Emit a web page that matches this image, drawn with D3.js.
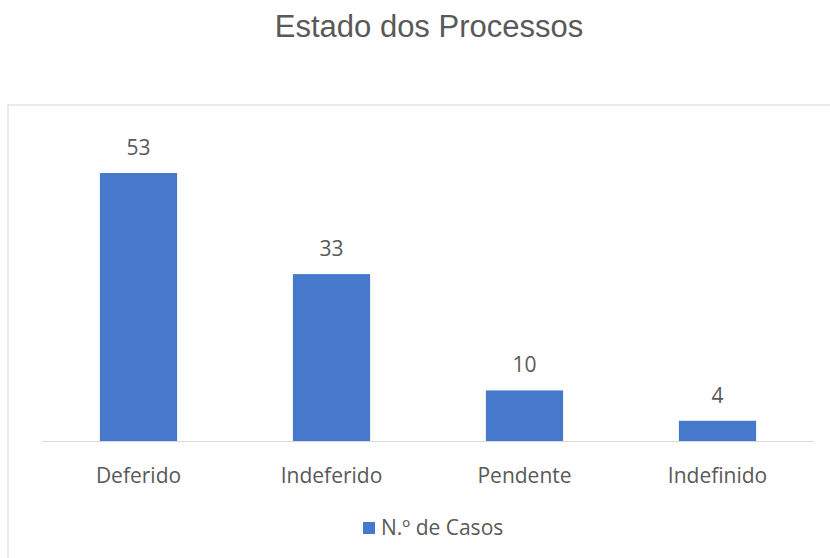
<!DOCTYPE html>
<html><head><meta charset="utf-8">
<script src="https://cdn.jsdelivr.net/npm/d3@7"></script>
<style>body{margin:0;background:#fff}svg{display:block}</style>
</head><body>
<svg id="c" width="830" height="558"></svg>
<script>
const categories = ["Deferido", "Indeferido", "Pendente", "Indefinido"];
const values = [53, 33, 10, 4];
const seriesName = "N.º de Casos";
const title = "Estado dos Processos";

const svg = d3.select("#c");
const W = 830, H = 558;
const baseY = 441;
const x = d3.scaleBand().domain(categories).range([42, 814]).paddingInner(0.6).paddingOuter(0.3);
const y = d3.scaleLinear().domain([0, 53]).range([baseY, 173]);
const txt = "#595959";
const blue = "#4678CB";

// chart area frame
svg.append("rect").attr("x", 8).attr("y", 105).attr("width", W + 10).attr("height", H + 10)
  .attr("fill", "none").attr("stroke", "#d6d6d6").attr("stroke-width", 1);

svg.append("text").attr("x", 429).attr("y", 37).attr("text-anchor", "middle")
  .attr("font-family", "Liberation Sans, Arial, sans-serif").attr("font-size", 31)
  .attr("fill", txt).text(title);

// baseline
svg.append("line").attr("x1", 42).attr("x2", 814).attr("y1", baseY + 0.5).attr("y2", baseY + 0.5)
  .attr("stroke", "#d9d9d9").attr("stroke-width", 1);

svg.selectAll("rect.bar").data(values).join("rect").attr("class", "bar")
  .attr("x", (d, i) => x(categories[i])).attr("width", x.bandwidth())
  .attr("y", d => y(d)).attr("height", d => baseY - y(d)).attr("fill", blue);

svg.selectAll("text.val").data(values).join("text").attr("class", "val")
  .attr("x", (d, i) => x(categories[i]) + x.bandwidth() / 2).attr("y", d => y(d) - 18)
  .attr("text-anchor", "middle").attr("font-family", "Open Sans, sans-serif").attr("font-size", 21)
  .attr("fill", txt).text(d => d);

const xAxis = svg.append("g").attr("transform", `translate(0,${baseY})`)
  .call(d3.axisBottom(x).tickSize(0).tickPadding(0));
xAxis.select(".domain").remove();
xAxis.selectAll("text").attr("dy", 0).attr("y", 42).attr("font-family", "Open Sans, sans-serif")
  .attr("font-size", 21).attr("fill", txt);

// legend
const lg = svg.append("g");
lg.append("rect").attr("x", 363).attr("y", 522).attr("width", 12).attr("height", 12).attr("fill", blue);
lg.append("text").attr("x", 381).attr("y", 535).attr("font-family", "Open Sans, sans-serif")
  .attr("font-size", 21).attr("fill", txt).text(seriesName);
</script>
</body></html>
